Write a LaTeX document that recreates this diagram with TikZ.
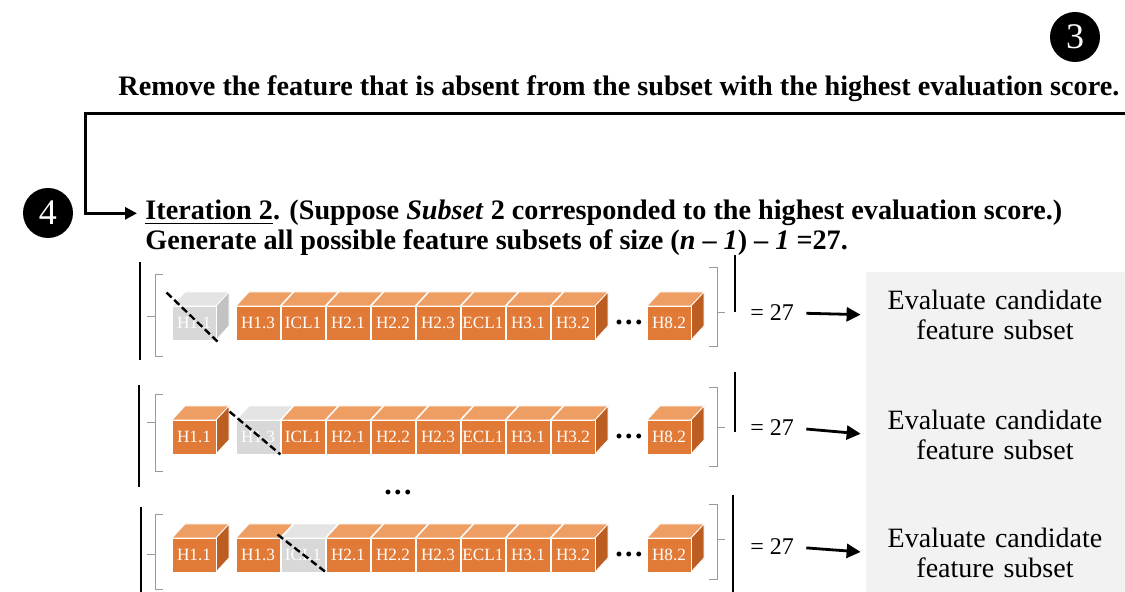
\documentclass[tikz,border=0pt]{standalone}
\usepackage{fontspec}
\setmainfont{Liberation Serif}
\usetikzlibrary{arrows.meta,calc}

\definecolor{ofront}{HTML}{E27A37}
\definecolor{otop}{HTML}{EE9D63}
\definecolor{oside}{HTML}{BC5E22}
\definecolor{gfront}{HTML}{D8D8D8}
\definecolor{gtop}{HTML}{E4E4E4}
\definecolor{gside}{HTML}{C2C2C2}
\definecolor{panel}{HTML}{F2F2F2}

% one feature cube: #1 name, #2 left x, #3 front-face top y, #4 label, #5 palette (o/g), #6 side face shown (1/0)
\newcommand\featcube[6]{%
  \fill[#5top, draw=white, line width=0.4pt] (#2,#3) -- ++(13,-14) -- ++(44,0) -- ++(-13,14) -- cycle;
  \ifnum#6=1
    \fill[#5side, draw=white, line width=0.4pt] (#2+44,#3) -- ++(13,-14) -- ++(0,34) -- ++(-13,14) -- cycle;
  \fi
  \node[cubeface, fill=#5front] (#1) at (#2+22,#3+17) {#4};
}

% the two brackets around one subset: #1 y of top, #2 y of bottom, #3 tick y (left), #4 top right, #5 bottom right, #6 tick right
\newcommand\subsetbrackets[6]{%
  \draw[brk] (163,#1) -- (155,#1) -- (155,#2) -- (163,#2);
  \draw[brk] (155,#3) -- (147,#3);
  \draw[brk] (709,#4) -- (717,#4) -- (717,#5) -- (709,#5);
  \draw[brk] (717,#6) -- (725,#6);
}

\begin{document}
\begin{tikzpicture}[x=0.5pt,y=-0.5pt,
  head/.style={font=\fontsize{14.1}{16}\selectfont\bfseries, inner sep=0, anchor=base west},
  badge/.style={circle, fill=black, text=white, minimum size=25pt, inner sep=0, font=\fontsize{18}{18}\selectfont},
  frame/.style={line width=1.5pt},
  cubeface/.style={minimum width=22pt, minimum height=17pt, inner sep=0, draw=white, line width=0.4pt,
                   font=\fontsize{8.6}{9}\selectfont, text=white},
  bar/.style={line width=1pt},
  brk/.style={draw=black!40, line width=0.5pt},
  eqlabel/.style={font=\fontsize{12}{13}\selectfont, inner sep=0, anchor=west},
  flow/.style={line width=1.4pt, -{Triangle[length=7pt,width=7pt]}},
  evaltext/.style={font=\fontsize{14}{15}\selectfont, align=center, text width=120pt, inner sep=0},
  cross/.style={line width=1.2pt, dash pattern=on 3.5pt off 1.8pt},
  dots/.style={font=\fontsize{15}{15}\selectfont\bfseries, inner sep=0}
]
\useasboundingbox (0,0) rectangle (1125,592);

% grey panel on the right
\fill[panel] (866,272) rectangle (1125,592);

% step badges
\node[badge] (b3) at (1075,37) {3};
\node[badge] (b4) at (48,213) {4};

% headings
\node[head] (remove) at (118,96) {Remove the feature that is absent from the subset with the highest evaluation score.};
\node[head] (iter1) at (145,220) {\underline{Iteration 2}. (Suppose \textit{Subset} 2 corresponded to the highest evaluation score.)};
\node[head] (iter2) at (145,250) {Generate all possible feature subsets of size (\textit{n} -- \textit{1}) -- \textit{1} =27.};

% loop-back connector
\coordinate (edge) at (1125,114);
\coordinate (turn) at (85,114);
\draw[frame, -{Triangle[length=6pt,width=6pt]}, shorten >=4pt] (edge) -- (turn) |- (iter1.west);

% ---------- subset 1 : H1.1 removed ----------
\draw[bar] (140,262) -- (140,360);
\draw[bar] (735,255) -- (735,312);
\subsetbrackets{275}{357}{317}{268}{347}{313}
\featcube{a0}{172}{306}{H1.1}{g}{1}
\featcube{a1}{236}{306}{H1.3}{o}{0}
\featcube{a2}{281}{306}{ICL1}{o}{0}
\featcube{a3}{326}{306}{H2.1}{o}{0}
\featcube{a4}{371}{306}{H2.2}{o}{0}
\featcube{a5}{416}{306}{H2.3}{o}{0}
\featcube{a6}{461}{306}{ECL1}{o}{0}
\featcube{a7}{506}{306}{H3.1}{o}{0}
\featcube{a8}{551}{306}{H3.2}{o}{1}
\node[dots] (ad) at (629,322) {.\hspace{1.2pt}.\hspace{1.2pt}.};
\featcube{a9}{647}{306}{H8.2}{o}{1}
\draw[cross] ($(a0.north west)+(-5,-13)$) -- ($(a0.south east)+(2,2)$);
\node[eqlabel] (eq1) at (750,313) {= 27};
\node[evaltext] (ev1) at (995,315) {Evaluate candidate\\feature subset};
\draw[flow, shorten <=6pt, shorten >=7pt] (eq1.east) -- (ev1.west);

% ---------- subset 2 : H1.3 removed ----------
\draw[bar] (139,385) -- (139,487);
\draw[bar] (735,372) -- (735,432);
\subsetbrackets{395}{472}{423}{388}{467}{428}
\featcube{b0}{172}{420}{H1.1}{o}{1}
\featcube{b1}{236}{420}{H1.3}{g}{0}
\featcube{b2}{281}{420}{ICL1}{o}{0}
\featcube{b3c}{326}{420}{H2.1}{o}{0}
\featcube{b4c}{371}{420}{H2.2}{o}{0}
\featcube{b5}{416}{420}{H2.3}{o}{0}
\featcube{b6}{461}{420}{ECL1}{o}{0}
\featcube{b7}{506}{420}{H3.1}{o}{0}
\featcube{b8}{551}{420}{H3.2}{o}{1}
\node[dots] (bd) at (629,436) {.\hspace{1.2pt}.\hspace{1.2pt}.};
\featcube{b9}{647}{420}{H8.2}{o}{1}
\draw[cross] ($(b1.north west)+(-6,-8)$) -- ($(b1.south east)+(0,0)$);
\node[eqlabel] (eq2) at (750,428) {= 27};
\node[evaltext] (ev2) at (995,435) {Evaluate candidate\\feature subset};
\draw[flow, shorten <=6pt, shorten >=7pt] (eq2.east) -- (ev2.west);

% vertical ellipsis between the listed subsets
\node[dots] (vdots) at (398,492) {.\hspace{1.2pt}.\hspace{1.2pt}.};

% ---------- subset 3 : ICL1 removed ----------
\draw[bar] (141,507) -- (141,592);
\draw[bar] (733,495) -- (733,592);
\subsetbrackets{515}{590}{555}{505}{580}{540}
\featcube{c0}{172}{538}{H1.1}{o}{1}
\featcube{c1}{236}{538}{H1.3}{o}{0}
\featcube{c2}{281}{538}{ICL1}{g}{0}
\featcube{c3}{326}{538}{H2.1}{o}{0}
\featcube{c4}{371}{538}{H2.2}{o}{0}
\featcube{c5}{416}{538}{H2.3}{o}{0}
\featcube{c6}{461}{538}{ECL1}{o}{0}
\featcube{c7}{506}{538}{H3.1}{o}{0}
\featcube{c8}{551}{538}{H3.2}{o}{1}
\node[dots] (cd) at (629,554) {.\hspace{1.2pt}.\hspace{1.2pt}.};
\featcube{c9}{647}{538}{H8.2}{o}{1}
\draw[cross] ($(c2.north west)+(-3,-3)$) -- ($(c2.south east)+(2,1)$);
\node[eqlabel] (eq3) at (750,547) {= 27};
\node[evaltext] (ev3) at (995,553) {Evaluate candidate\\feature subset};
\draw[flow, shorten <=6pt, shorten >=7pt] (eq3.east) -- (ev3.west);
\end{tikzpicture}
\end{document}
